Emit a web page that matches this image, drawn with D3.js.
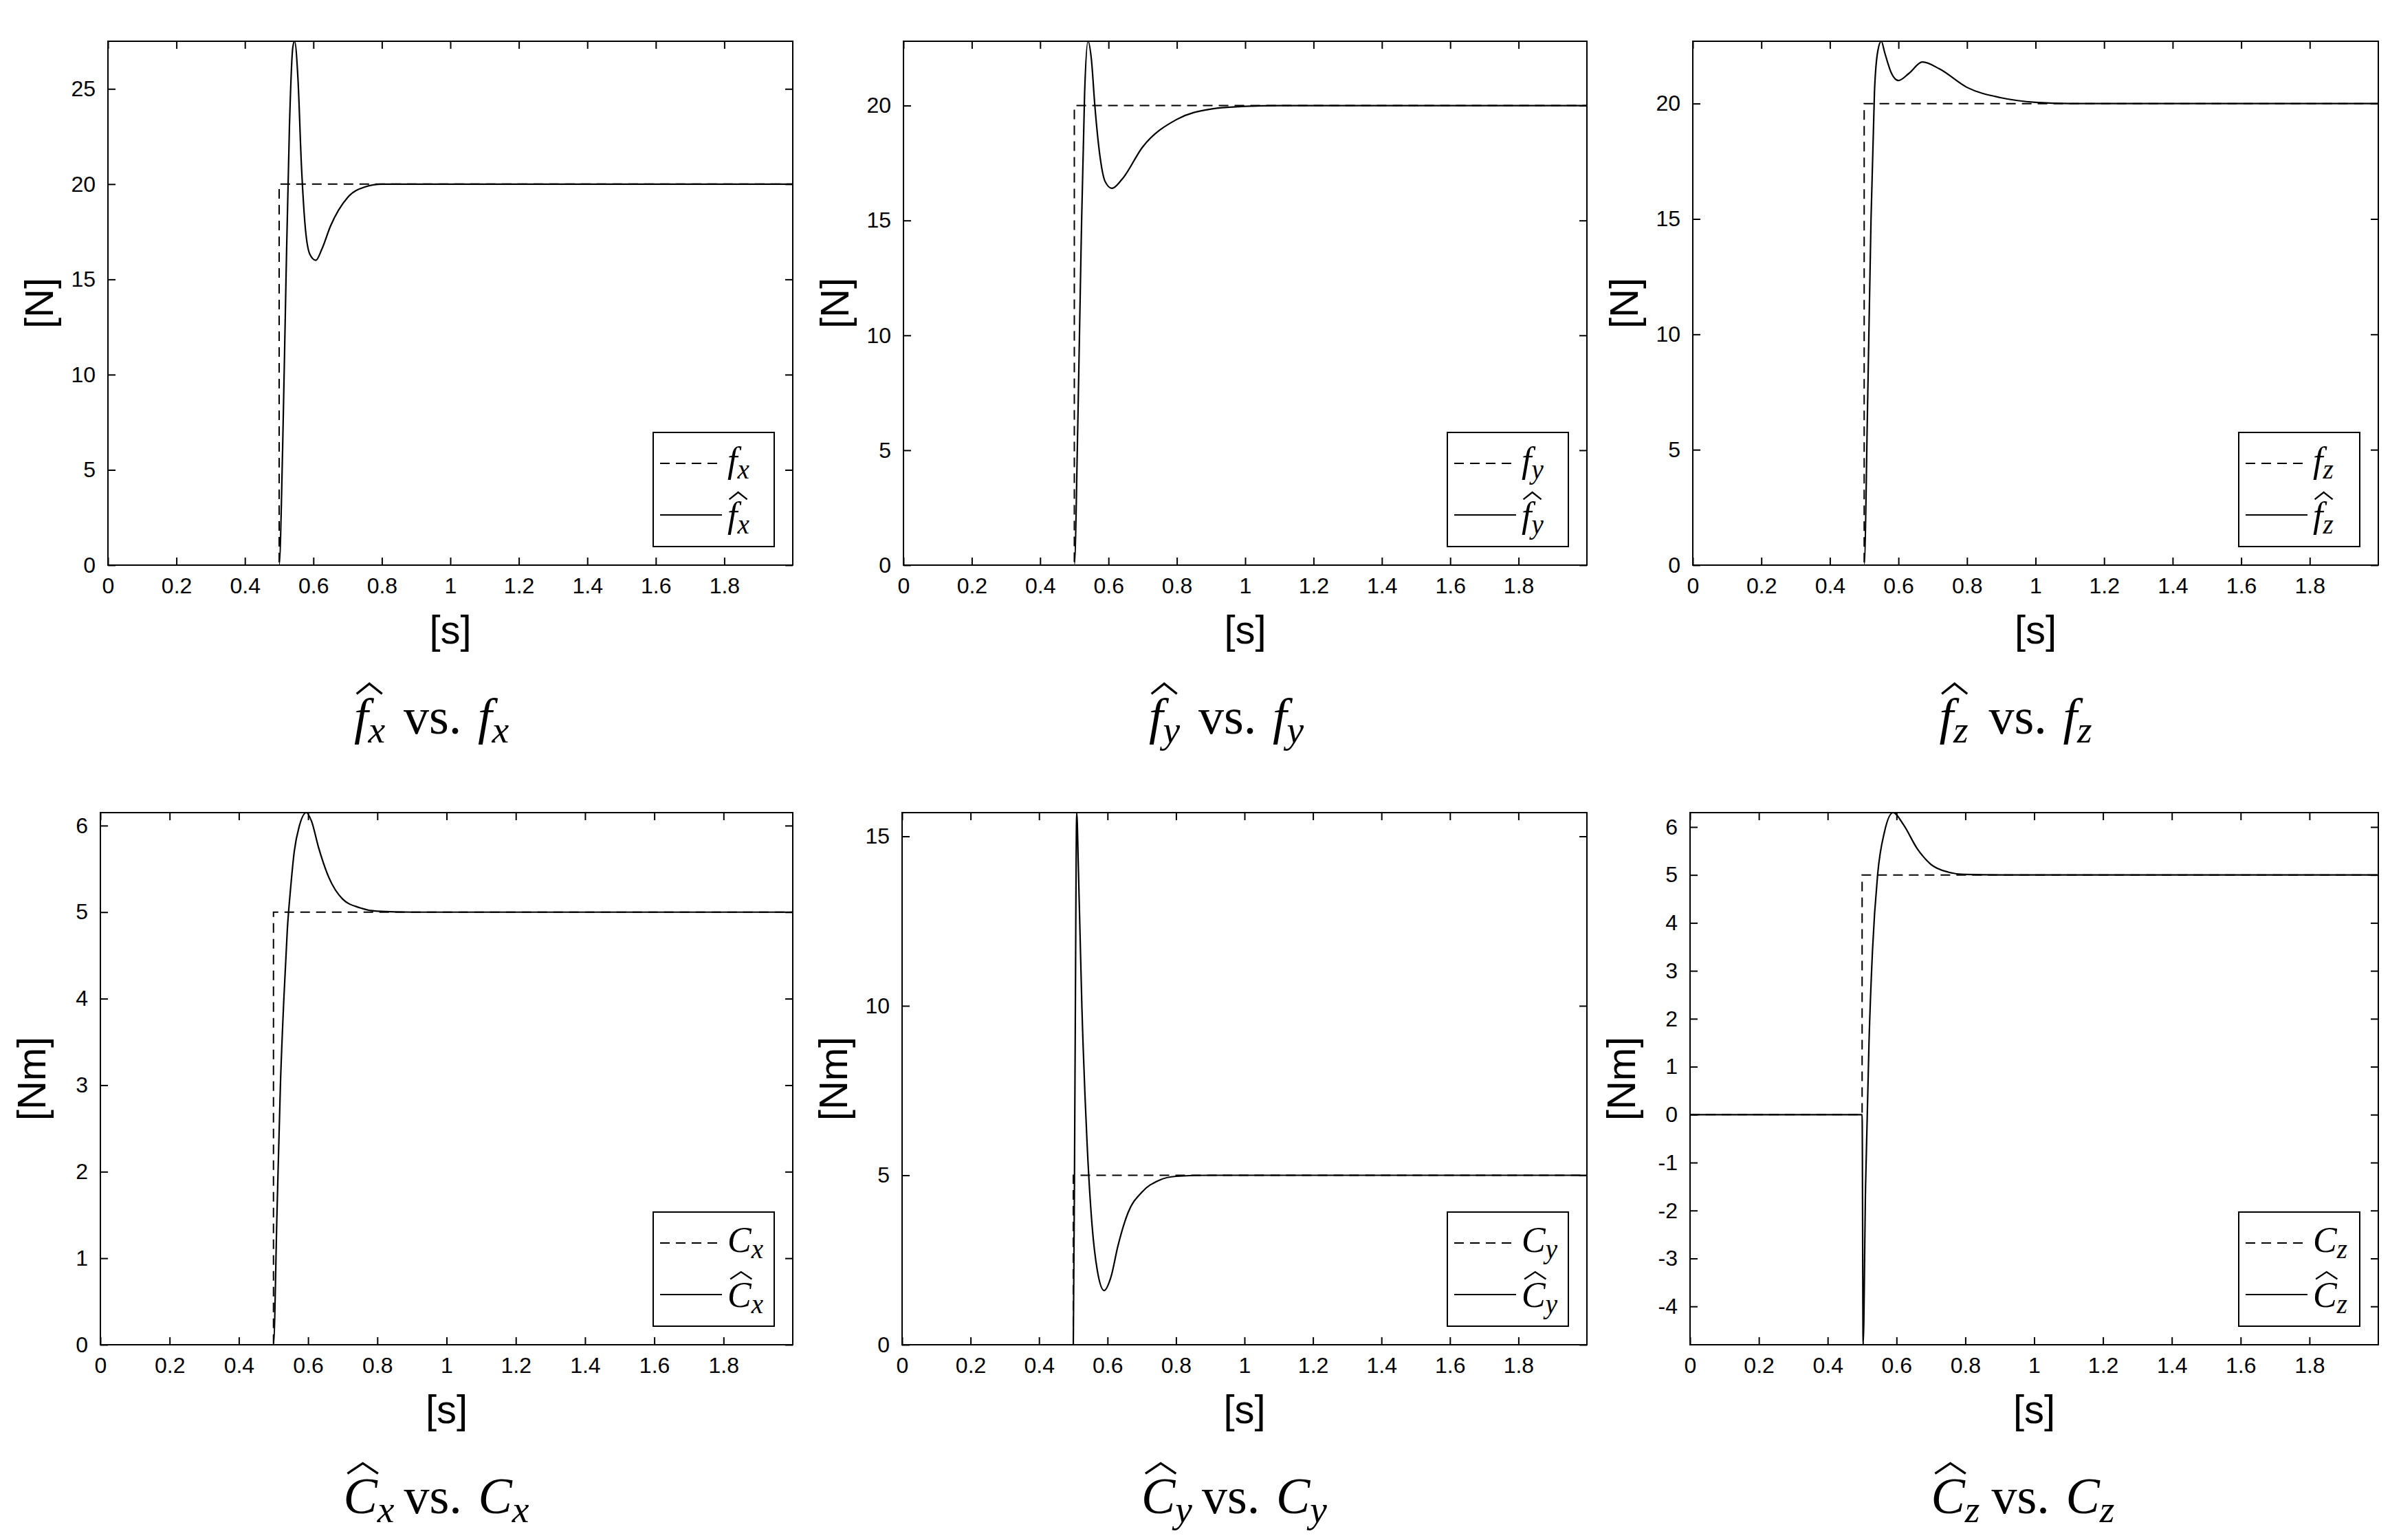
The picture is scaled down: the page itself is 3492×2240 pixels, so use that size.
<!DOCTYPE html>
<html><head><meta charset="utf-8">
<script src="https://cdn.jsdelivr.net/npm/d3@7"></script>
<style>body{margin:0;background:#fff}</style></head>
<body><svg id="c" width="3492" height="2240"></svg>
<script>
const xTicks = [0,0.2,0.4,0.6,0.8,1,1.2,1.4,1.6,1.8];
const refT = [0,0.5,0.5,2];
const fxT = [0,0.5,0.51,0.52,0.53,0.54,0.545,0.555,0.565,0.575,0.59,0.607,0.625,0.65,0.7,0.75,0.8,2];
const fxV = [0,0,6,15,23,27.2,27.5,25.5,21,18,16.3,16.0,16.6,17.8,19.3,19.85,20,20];
const fyT = [0,0.5,0.51,0.52,0.53,0.54,0.55,0.56,0.575,0.59,0.61,0.64,0.7,0.8,0.9,1.0,1.1,2];
const fyV = [0,0,6,14,20.5,22.8,22,20,17.8,16.7,16.4,16.8,18.2,19.4,19.85,19.97,20,20];
const fzT = [0,0.5,0.51,0.52,0.53,0.54,0.55,0.56,0.58,0.6,0.63,0.67,0.72,0.8,0.9,1.0,1.1,2];
const fzV = [0,0,7,15,20.5,22.3,22.7,22.2,21.3,21.0,21.3,21.8,21.5,20.7,20.25,20.05,20,20];
const cxT = [0,0.5,0.51,0.52,0.53,0.54,0.55,0.56,0.575,0.595,0.61,0.63,0.66,0.7,0.75,0.8,0.9,2];
const cxV = [0,0,1.5,3,4,4.8,5.3,5.7,6.0,6.15,6.05,5.75,5.4,5.15,5.05,5.01,5,5];
const cyT = [0,0.5,0.505,0.51,0.515,0.525,0.54,0.555,0.57,0.59,0.61,0.63,0.66,0.7,0.75,0.8,0.9,2];
const cyV = [0,0,8,15.7,14,10,6,3.5,2.2,1.6,2.0,2.9,3.9,4.5,4.85,4.97,5,5];
const czT = [0,0.5,0.503,0.51,0.52,0.53,0.545,0.565,0.59,0.62,0.66,0.7,0.75,0.8,0.9,2];
const czV = [0,0,-4.8,-1.5,1.5,3.4,5.0,5.9,6.3,6.05,5.55,5.22,5.06,5.01,5,5];
const fTicks = [0,5,10,15,20,25];
const cTicks6 = [0,1,2,3,4,5,6];
const cyTicks = [0,5,10,15];
const czTicks = [-4,-3,-2,-1,0,1,2,3,4,5,6];

const panels = [
 {x0:157,x1:1153,y0:60,y1:822,dom:[0,27.5],ticks:fTicks,t:fxT,v:fxV,ref:[0,0,20,20],sym:'f',sub:'x',unit:'[N]'},
 {x0:1314,x1:2308,y0:60,y1:822,dom:[0,22.8],ticks:fTicks,t:fyT,v:fyV,ref:[0,0,20,20],sym:'f',sub:'y',unit:'[N]'},
 {x0:2462,x1:3459,y0:60,y1:822,dom:[0,22.7],ticks:fTicks,t:fzT,v:fzV,ref:[0,0,20,20],sym:'f',sub:'z',unit:'[N]'},
 {x0:146,x1:1153,y0:1182,y1:1956,dom:[0,6.15],ticks:cTicks6,t:cxT,v:cxV,ref:[0,0,5,5],sym:'C',sub:'x',unit:'[Nm]'},
 {x0:1312,x1:2308,y0:1182,y1:1956,dom:[0,15.7],ticks:cyTicks,t:cyT,v:cyV,ref:[0,0,5,5],sym:'C',sub:'y',unit:'[Nm]'},
 {x0:2458,x1:3459,y0:1182,y1:1956,dom:[-4.8,6.3],ticks:czTicks,t:czT,v:czV,ref:[0,0,5,5],sym:'C',sub:'z',unit:'[Nm]'}
];
const svg = d3.select('#c');
const TL = 11;
function hatSym(g, x, y, sym, sub, size, hat){
  const t = g.append('text').attr('x',x).attr('y',y).attr('font-family','Liberation Serif, DejaVu Serif, serif')
    .attr('font-style','italic').attr('font-size',size).attr('fill','#000');
  t.append('tspan').text(sym);
  t.append('tspan').attr('dy',size*0.18).attr('font-size',size*0.75).text(sub);
  if(hat){
    const w = sym==='f'? size*0.5 : size*0.6;
    const cx = x + (sym==='f'? size*0.3 : size*0.38);
    const top = y - size*0.98, h = size*0.2;
    g.append('path').attr('d',`M${cx-w/2},${top+h}L${cx},${top}L${cx+w/2},${top+h}`)
      .attr('fill','none').attr('stroke','#000').attr('stroke-width',size*0.045);
  }
  return t;
}
panels.forEach(p=>{
  const x = d3.scaleLinear().domain([0,2]).range([p.x0,p.x1]);
  const y = d3.scaleLinear().domain(p.dom).range([p.y1,p.y0]);
  const g = svg.append('g');
  const fmt = d=>String(d);
  const ax = [
    [d3.axisBottom(x).tickValues(xTicks).tickSize(-TL).tickPadding(18).tickFormat(fmt), `translate(0,${p.y1})`],
    [d3.axisTop(x).tickValues(xTicks).tickSize(-TL).tickFormat(''), `translate(0,${p.y0})`],
    [d3.axisLeft(y).tickValues(p.ticks).tickSize(-TL).tickPadding(18).tickFormat(fmt), `translate(${p.x0},0)`],
    [d3.axisRight(y).tickValues(p.ticks).tickSize(-TL).tickFormat(''), `translate(${p.x1},0)`]
  ];
  ax.forEach(([a,tr])=>{
    const s = g.append('g').attr('transform',tr).call(a);
    s.selectAll('path.domain').remove();
    s.selectAll('line').attr('stroke','#000').attr('stroke-width',2);
    s.selectAll('text').filter(function(){return this.textContent==='';}).remove();
    s.selectAll('text').attr('font-family','Liberation Sans, Arial, sans-serif').attr('font-size',32).attr('fill','#000');
  });
  g.append('rect').attr('x',p.x0).attr('y',p.y0).attr('width',p.x1-p.x0).attr('height',p.y1-p.y0)
    .attr('fill','none').attr('stroke','#000').attr('stroke-width',2);
  const line = d3.line().x(d=>x(d[0])).y(d=>y(d[1]));
  const clip = 'clip'+p.x0+p.y0;
  svg.append('clipPath').attr('id',clip).append('rect').attr('x',p.x0).attr('y',p.y0-2).attr('width',p.x1-p.x0).attr('height',p.y1-p.y0+4);
  g.append('path').attr('clip-path',`url(#${clip})`).datum(refT.map((t,i)=>[t,p.ref[i]])).attr('d',line)
    .attr('fill','none').attr('stroke','#000').attr('stroke-width',2).attr('stroke-dasharray','14,9');
  g.append('path').attr('clip-path',`url(#${clip})`).datum(p.t.map((t,i)=>[t,p.v[i]])).attr('d',line.curve(d3.curveMonotoneX))
    .attr('fill','none').attr('stroke','#000').attr('stroke-width',2.2);
  g.append('text').attr('x',(p.x0+p.x1)/2).attr('y',p.y1+114).attr('text-anchor','middle')
    .attr('font-family','Liberation Sans, Arial, sans-serif').attr('font-size',58).text('[s]');
  g.append('text').attr('transform',`translate(${p.x0-80},${(p.y0+p.y1)/2}) rotate(-90)`).attr('text-anchor','middle')
    .attr('font-family','Liberation Sans, Arial, sans-serif').attr('font-size',58).text(p.unit);
  const lw=176, lh=166, lx=p.x1-27-lw, ly=p.y1-27-lh;
  g.append('rect').attr('x',lx).attr('y',ly).attr('width',lw).attr('height',lh).attr('fill','#fff').attr('stroke','#000').attr('stroke-width',2);
  g.append('line').attr('x1',lx+10).attr('x2',lx+100).attr('y1',ly+45).attr('y2',ly+45).attr('stroke','#000').attr('stroke-width',2).attr('stroke-dasharray','14,9');
  g.append('line').attr('x1',lx+10).attr('x2',lx+100).attr('y1',ly+120).attr('y2',ly+120).attr('stroke','#000').attr('stroke-width',2);
  hatSym(g, lx+108, ly+58, p.sym, p.sub, 52, false);
  hatSym(g, lx+108, ly+138, p.sym, p.sub, 52, true);
  const fs=74;
  const cy = p.y1 + 245, cx=(p.x0+p.x1)/2 - (p.sym==='f'?140:150);
  hatSym(g, cx, cy, p.sym, p.sub, fs, true);
  g.append('text').attr('x',cx+(p.sym==='f'?72:88)).attr('y',cy).attr('font-family','Liberation Serif, DejaVu Serif, serif')
    .attr('font-size',fs).text('vs.');
  hatSym(g, cx+(p.sym==='f'?180:196), cy, p.sym, p.sub, fs, false);
});
</script></body></html>
